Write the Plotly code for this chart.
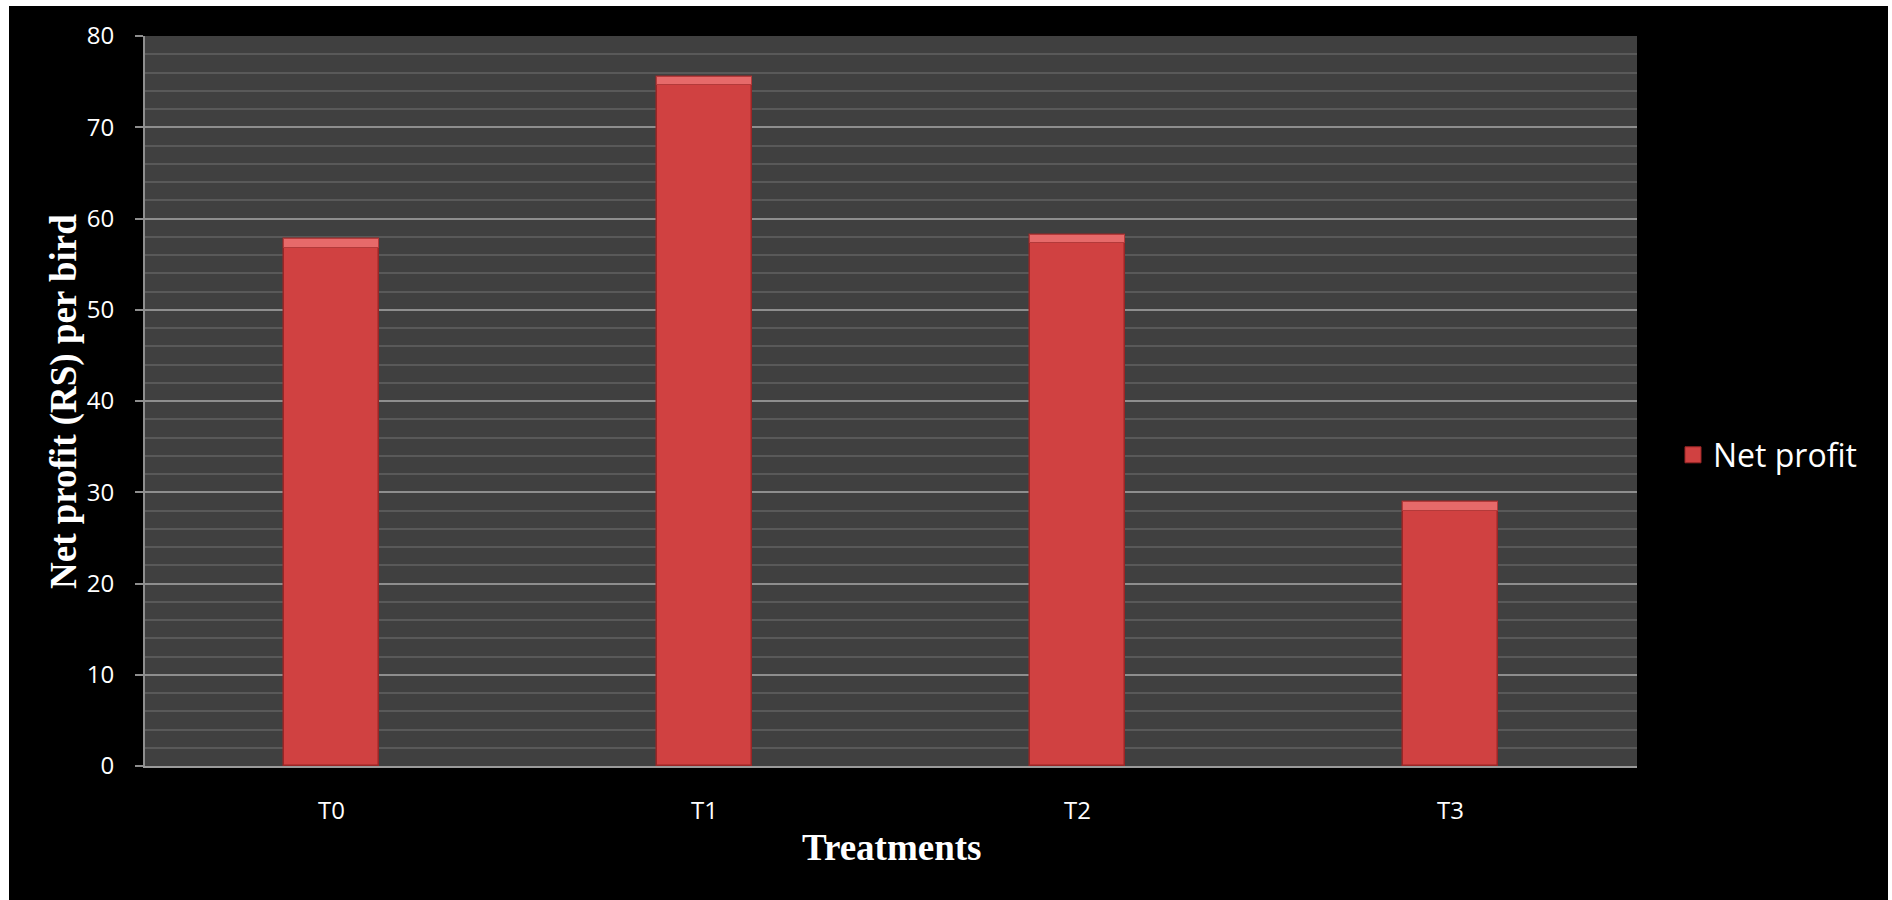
import plotly.graph_objects as go

# Net profit per bird for each treatment
treatments = ["T0", "T1", "T2", "T3"]
net_profit = [57.7, 75.5, 58.2, 28.9]

y_ticks = [0, 10, 20, 30, 40, 50, 60, 70, 80]

W, H = 1892, 900
L, R, T, B = 145, 255, 36, 134
plot_w = W - L - R
plot_h = H - T - B


def px_x(p):
    return (p - L) / plot_w


def px_y(p):
    return (H - B - p) / plot_h


bar_width = 0.255
bevel = 0.9  # height of the light bevel at the top of each bar, in axis units

fig = go.Figure()

# main bar bodies
fig.add_trace(go.Bar(
    x=treatments, y=net_profit, width=bar_width,
    marker=dict(color="#d04141", line=dict(color="#9a2626", width=1.5)),
    showlegend=False, hoverinfo="x+y",
))

# lighter bevel strip on top of each bar
fig.add_trace(go.Bar(
    x=treatments, y=[bevel] * len(net_profit),
    base=[v - bevel for v in net_profit], width=bar_width,
    marker=dict(color="#e66a6a", line=dict(color="#b33a3a", width=1)),
    showlegend=False, hoverinfo="skip",
))

# legend entry
fig.add_trace(go.Scatter(
    x=[None], y=[None], mode="markers", name="Net profit",
    marker=dict(symbol="square", size=20, color="#d04141",
                line=dict(color="#9a2626", width=1)),
))

tick_font = dict(family="Open Sans", size=24, color="white")
title_font = dict(family="Liberation Serif", size=37, color="white")

# thin white frame round the black chart background
frame = [
    (px_x(-5), px_x(W + 5), px_y(6), px_y(-5)),        # top strip
    (px_x(-5), px_x(9), px_y(H + 5), px_y(-5)),        # left strip
    (px_x(1888), px_x(W + 5), px_y(H + 5), px_y(-5)),  # right strip
]
shapes = [
    dict(type="rect", xref="paper", yref="paper", layer="below",
         x0=x0, x1=x1, y0=y0, y1=y1,
         fillcolor="white", line=dict(width=0))
    for x0, x1, y0, y1 in frame
]

fig.update_layout(
    width=W, height=H,
    margin=dict(l=L, r=R, t=T, b=B, pad=0),
    paper_bgcolor="black",
    plot_bgcolor="#404040",
    barmode="overlay",
    bargap=0,
    showlegend=True,
    legend=dict(
        x=px_x(1673), y=px_y(455), xanchor="left", yanchor="middle",
        font=dict(family="Open Sans", size=32, color="white"),
        bgcolor="rgba(0,0,0,0)",
    ),
    xaxis=dict(
        type="category",
        range=[-0.5, 3.5],
        showgrid=False,
        showline=True, linecolor="#9a9a9a", linewidth=2,
        ticks="outside", ticklen=22, tickcolor="rgba(0,0,0,0)",
        tickfont=tick_font,
        zeroline=False,
    ),
    yaxis=dict(
        range=[0, 80],
        tickvals=y_ticks,
        ticktext=[str(v) for v in y_ticks],
        showgrid=True, gridcolor="#8e8e8e", gridwidth=2,
        minor=dict(dtick=2, showgrid=True, gridcolor="#595959", gridwidth=1.5),
        showline=True, linecolor="#8e8e8e", linewidth=2,
        ticks="outside", ticklen=8, tickwidth=2, tickcolor="#8e8e8e",
        ticklabelstandoff=16,
        tickfont=tick_font,
        zeroline=False,
    ),
    shapes=shapes,
    annotations=[
        dict(text="<b>Net profit (RS) per bird</b>", textangle=-90,
             xref="paper", yref="paper", x=px_x(64), y=px_y(402),
             xanchor="center", yanchor="middle", showarrow=False,
             font=title_font),
        dict(text="<b>Treatments</b>",
             xref="paper", yref="paper", x=px_x(891), y=px_y(847),
             xanchor="center", yanchor="middle", showarrow=False,
             font=title_font),
    ],
)

fig.write_html("out.html")
